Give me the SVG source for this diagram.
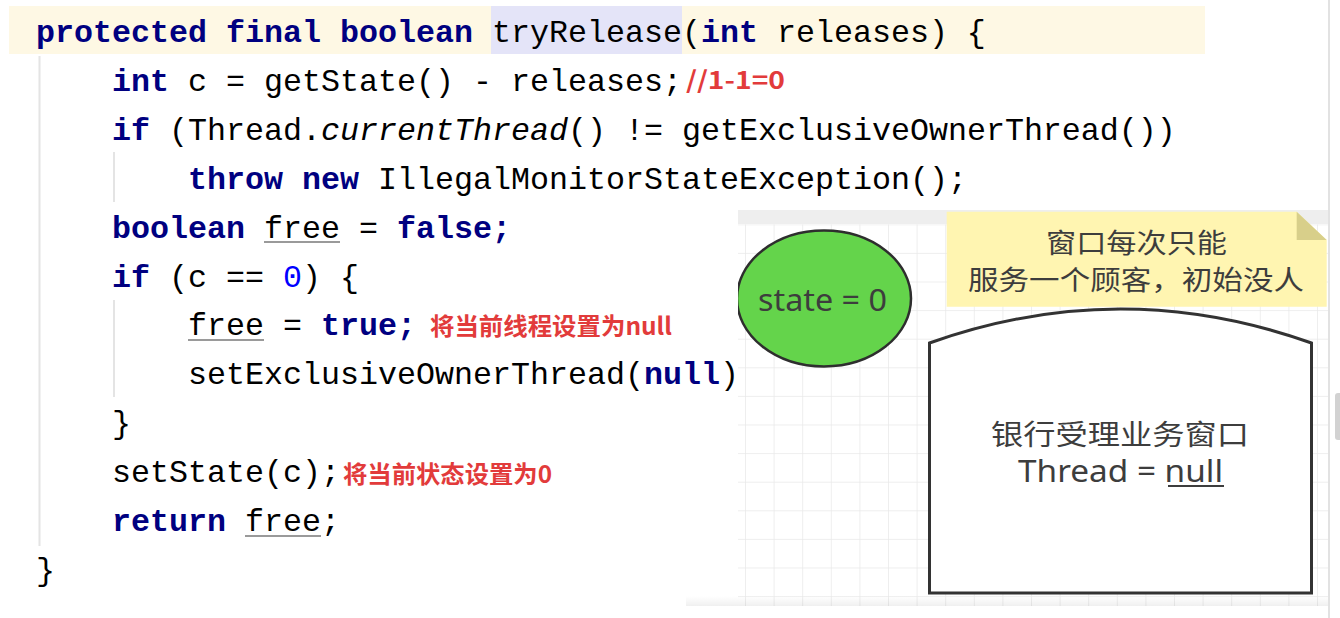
<svg xmlns="http://www.w3.org/2000/svg" width="1340" height="618" viewBox="0 0 1340 618">
<style>
.code{font-family:"Liberation Mono",monospace;font-size:31.67px;fill:#000}
.kw{font-weight:bold;fill:#000080}
.num{fill:#0000ff}
.it{font-style:italic}
.red{font-family:"Noto Sans CJK SC","Liberation Sans",sans-serif;font-weight:bold;font-size:24px;fill:#e23b3b}
.guide{stroke:#e4e4e4;stroke-width:2}
.ul{stroke:#9a9a9a;stroke-width:2}
.lbl{font-family:"Noto Sans","Noto Sans CJK SC",sans-serif;fill:#3d3d3d;text-anchor:middle}
.cjk{font-family:"Noto Sans CJK SC",sans-serif}
</style>
<defs>
<pattern id="grid" patternUnits="userSpaceOnUse" x="745" y="224.3" width="28.6" height="28.6">
<path d="M0,0 H28.6 M0,0 V28.6" stroke="#e9e9e9" stroke-width="1.5" fill="none"/>
</pattern>
<clipPath id="shot"><rect x="738" y="210" width="590" height="396"/></clipPath>
<linearGradient id="shadow" x1="0" y1="0" x2="0" y2="1">
<stop offset="0" stop-color="#000" stop-opacity="0"/>
<stop offset="1" stop-color="#000" stop-opacity="0.06"/>
</linearGradient>
</defs>
<rect width="1340" height="618" fill="#fff"/>

<g id="code">
<rect x="9" y="6" width="1196" height="48" fill="#fef8e4"/>
<rect x="491" y="6" width="191" height="48" fill="#e4e4f8"/>
<line class="guide" x1="39.5" y1="56" x2="39.5" y2="546"/>
<line class="guide" x1="114" y1="152" x2="114" y2="202"/>
<line class="guide" x1="114" y1="300" x2="114" y2="397"/>
<text class="code" x="36" y="42"><tspan class="kw">protected final boolean</tspan> tryRelease(<tspan class="kw">int</tspan> releases) {</text>
<text class="code" x="112" y="91"><tspan class="kw">int</tspan> c = getState() - releases;</text>
<text class="red" x="686" y="89" textLength="99" lengthAdjust="spacingAndGlyphs">//1-1=0</text>
<text class="code" x="112" y="140"><tspan class="kw">if</tspan> (Thread.<tspan class="it">currentThread</tspan>() != getExclusiveOwnerThread())</text>
<text class="code" x="188" y="189"><tspan class="kw">throw new</tspan> IllegalMonitorStateException();</text>
<text class="code" x="112" y="238"><tspan class="kw">boolean</tspan> free = <tspan class="kw">false;</tspan></text>
<line class="ul" x1="264" y1="242" x2="340" y2="242"/>
<text class="code" x="112" y="287"><tspan class="kw">if</tspan> (c == <tspan class="num">0</tspan>) {</text>
<text class="code" x="188" y="335">free = <tspan class="kw">true;</tspan></text>
<line class="ul" x1="188" y1="340" x2="264" y2="340"/>
<text class="red" x="430" y="335" textLength="242" lengthAdjust="spacingAndGlyphs">将当前线程设置为null</text>
<text class="code" x="188" y="384">setExclusiveOwnerThread(<tspan class="kw">null</tspan>)</text>
<text class="code" x="112" y="433">}</text>
<text class="code" x="112" y="482">setState(c);</text>
<text class="red" x="343" y="483" textLength="209" lengthAdjust="spacingAndGlyphs">将当前状态设置为0</text>
<text class="code" x="112" y="531"><tspan class="kw">return</tspan> free;</text>
<line class="ul" x1="245" y1="536" x2="321" y2="536"/>
<text class="code" x="36" y="580">}</text>
</g>

<g id="canvas">
<rect x="738" y="210" width="590" height="396" fill="#fff"/>
<rect x="738" y="224.3" width="590" height="382" fill="url(#grid)"/>
<rect x="738" y="210" width="590" height="14" fill="#eeeeee"/>
</g>

<g id="connectors"></g>

<g id="state" clip-path="url(#shot)">
<ellipse cx="824" cy="298.5" rx="87" ry="68" fill="#64d44b" stroke="#2e2e2e" stroke-width="2.5"/>
<text class="lbl" x="822.5" y="310.5" font-size="31" textLength="129" lengthAdjust="spacingAndGlyphs">state = 0</text>
</g>

<g id="note">
<polygon points="946.7,211.7 1296.7,211.7 1326.7,240 1326.7,306.7 946.7,306.7" fill="#fff5b1"/>
<polygon points="1296.7,211.7 1296.7,240 1326.7,240" fill="#d8cf8a"/>
<text class="lbl cjk" x="1136.5" y="253" font-size="27" textLength="181" lengthAdjust="spacingAndGlyphs">窗口每次只能</text>
<text class="lbl cjk" x="1136" y="290" font-size="27" textLength="336" lengthAdjust="spacingAndGlyphs">服务一个顾客，初始没人</text>
</g>

<g id="window">
<path d="M929.5,343 Q1120.5,275 1311.5,343 L1311.5,593 L929.5,593 Z" fill="#fff" stroke="#333" stroke-width="3"/>
<text class="lbl cjk" x="1120" y="445" font-size="28" textLength="258" lengthAdjust="spacingAndGlyphs">银行受理业务窗口</text>
<text class="lbl" x="1120.5" y="482" font-size="30" textLength="205" lengthAdjust="spacingAndGlyphs">Thread = null</text>
<line x1="1168" y1="486" x2="1224" y2="486" stroke="#3d3d3d" stroke-width="1.8"/>
</g>

<g id="frame">
<rect x="686" y="596" width="654" height="10" fill="url(#shadow)"/>
<rect x="686" y="606" width="654" height="12" fill="#fff"/>
<rect x="1328" y="0" width="12" height="618" fill="#fff"/>
<line x1="1329" y1="0" x2="1329" y2="618" stroke="#e2e2e2" stroke-width="2"/>
<rect x="1335" y="393" width="10" height="47" rx="3" fill="#d2d2d2"/>
</g>
</svg>
